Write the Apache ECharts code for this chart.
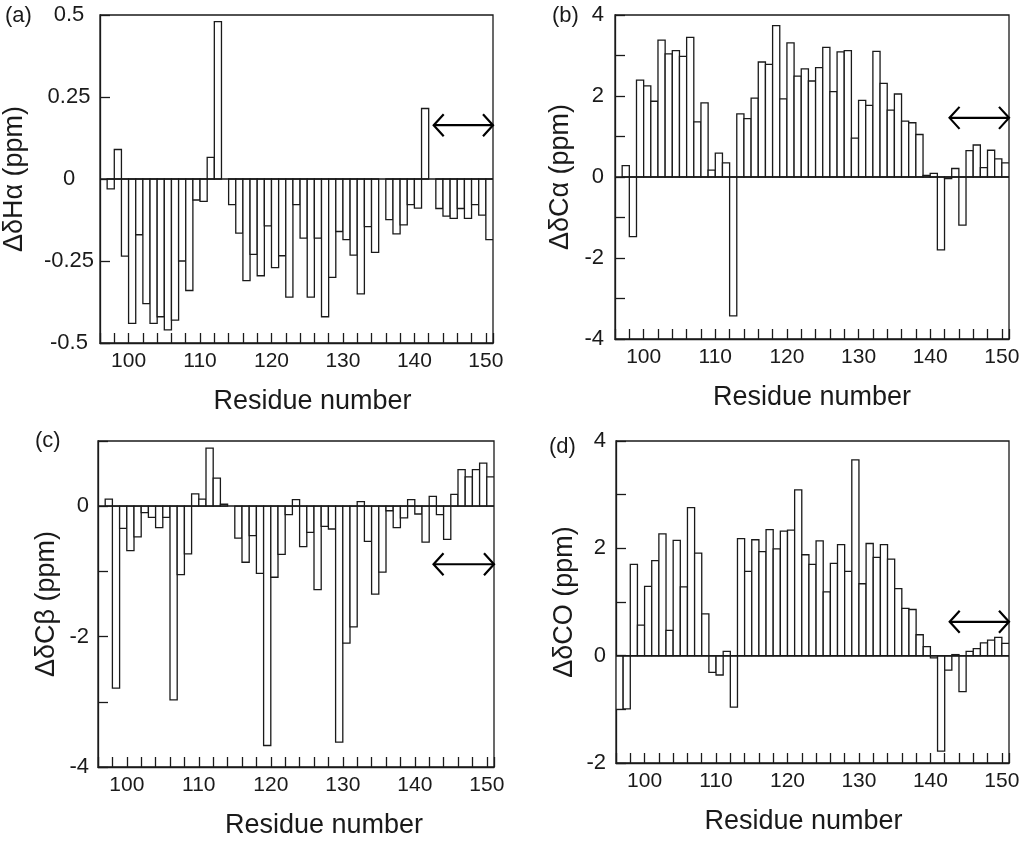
<!DOCTYPE html>
<html>
<head>
<meta charset="utf-8">
<script src="https://cdn.jsdelivr.net/npm/echarts@6/dist/echarts.min.js"></script>
<style>
html,body{margin:0;padding:0;background:#fff;}
#c{width:1024px;height:845px;}
</style>
</head>
<body>
<div id="c"></div>
<script>
// Residue numbers (x categories)
const residues = [96,97,98,99,100,101,102,103,104,105,106,107,108,109,110,111,112,113,114,115,116,117,118,119,120,121,122,123,124,125,126,127,128,129,130,131,132,133,134,135,136,137,138,139,140,141,142,143,144,145,146,147,148,149,150];

// (a) ΔδHα (ppm)
const dHa = [null,-0.03,0.09,-0.235,-0.44,-0.17,-0.38,-0.44,-0.42,-0.46,-0.43,-0.25,-0.34,-0.064,-0.068,0.066,0.48,null,-0.078,-0.165,-0.31,-0.23,-0.295,-0.143,-0.27,-0.234,-0.36,-0.078,-0.18,-0.36,-0.18,-0.42,-0.30,-0.16,-0.185,-0.232,-0.35,-0.145,-0.224,null,-0.124,-0.167,-0.14,-0.078,-0.089,0.215,null,-0.09,-0.113,-0.12,-0.09,-0.12,-0.078,-0.11,-0.185];

// (b) ΔδCα (ppm)
const dCa = [null,0.28,-1.47,2.39,2.25,1.87,3.38,3.04,3.12,2.98,3.45,1.36,1.83,0.17,0.59,0.35,-3.43,1.56,1.44,1.95,2.84,2.78,3.74,1.93,3.31,2.49,2.67,2.37,2.70,3.20,2.11,3.09,3.12,0.96,1.89,1.77,3.10,2.31,1.65,2.05,1.38,1.34,1.05,0.04,0.09,-1.80,-0.04,0.21,-1.19,0.65,0.79,0.23,0.66,0.45,0.35];

// (c) ΔδCβ (ppm)
const dCb = [null,0.11,-2.79,-0.34,-0.68,-0.47,-0.10,-0.17,-0.33,-0.17,-2.97,-1.05,-0.73,0.19,0.11,0.89,0.43,0.03,null,-0.49,-0.86,-0.45,-1.03,-3.67,-1.09,-0.74,-0.13,0.10,-0.62,-0.40,-1.28,-0.31,-0.35,-3.62,-2.10,-1.85,0.07,-0.54,-1.35,-1.01,-0.07,-0.33,-0.18,0.10,-0.12,-0.55,0.15,-0.13,-0.51,0.18,0.56,0.45,0.56,0.66,0.45];

// (d) ΔδCO (ppm)
const dCO = [-1.00,-0.99,1.70,0.57,1.29,1.77,2.27,0.47,2.15,1.28,2.76,1.91,0.78,-0.31,-0.36,0.08,-0.96,2.18,1.57,2.16,1.94,2.35,1.99,2.32,2.34,3.09,1.88,1.70,2.14,1.19,1.72,2.07,1.57,3.65,1.34,2.09,1.83,2.07,1.80,1.25,0.88,0.86,0.39,0.17,-0.04,-1.78,-0.27,0.02,-0.67,0.08,0.13,0.24,0.29,0.34,0.23];

// double-headed arrows: [from residue, to residue, y value]
const arrowA = [142.7, 151, 0.164];
const arrowB = [142.7, 151, 1.46];
const arrowC = [142.6, 151, -0.89];
const arrowD = [142.7, 151, 0.63];

const panelLabels = ['(a)', '(b)', '(c)', '(d)'];
const yNames = ['ΔδHα (ppm)', 'ΔδCα (ppm)', 'ΔδCβ (ppm)', 'ΔδCO (ppm)'];
const xName = 'Residue number';

const FONT = '"Liberation Sans", Arial, Helvetica, sans-serif';
const INK = '#1a1a1a';

const panels = [
  {vals: dHa, arrow: arrowA, grid:{left:100, top:15, width:393, height:328},
   y:{min:-0.5, max:0.5, interval:0.25, every:false, align:'center', margin:31, gap:72}, xpad:[0,0,0,32], lab:{left:5, top:5}},
  {vals: dCa, arrow: arrowB, grid:{left:615, top:15, width:394, height:324},
   y:{min:-4, max:4, interval:1, every:true, align:'right', margin:11, gap:41}, xpad:[0,0,0,0], lab:{left:552, top:5}},
  {vals: dCb, arrow: arrowC, grid:{left:98, top:441, width:396, height:326},
   y:{min:-4, max:1, interval:1, every:true, align:'right', margin:9, gap:38}, xpad:[0,0,0,56], lab:{left:35, top:430}},
  {vals: dCO, arrow: arrowD, grid:{left:616, top:441, width:393, height:322},
   y:{min:-2, max:4, interval:1, every:true, align:'right', margin:10, gap:38}, xpad:[0,18,0,0], lab:{left:549, top:436}}
];

function toData(vals){
  const out = [];
  residues.forEach((r,i)=>{ if (vals[i] !== null && vals[i] !== undefined) out.push([r, vals[i]]); });
  return out;
}

function renderBar(params, api){
  const x = api.value(0), y = api.value(1);
  const p0 = api.coord([x, 0]);
  const p1 = api.coord([x + 1, y]);
  return {
    type: 'rect',
    shape: {x: p0[0], y: Math.min(p0[1], p1[1]), width: p1[0] - p0[0], height: Math.abs(p1[1] - p0[1])},
    style: {fill: '#ffffff', stroke: INK, lineWidth: 1.3}
  };
}

function renderArrow(params, api){
  const a = api.coord([api.value(0), api.value(2)]);
  const b = api.coord([api.value(1), api.value(2)]);
  const hl = 10, hh = 11;
  const st = {stroke: '#000', lineWidth: 2.2, fill: null, lineJoin: 'miter'};
  return {
    type: 'group',
    children: [
      {type:'line', shape:{x1:a[0], y1:a[1], x2:b[0], y2:b[1]}, style: st},
      {type:'polyline', shape:{points:[[a[0]+hl, a[1]-hh],[a[0], a[1]],[a[0]+hl, a[1]+hh]]}, style: st},
      {type:'polyline', shape:{points:[[b[0]-hl, b[1]-hh],[b[0], b[1]],[b[0]-hl, b[1]+hh]]}, style: st}
    ]
  };
}

const option = {
  animation: false,
  backgroundColor: '#ffffff',
  textStyle: {fontFamily: FONT, color: INK},
  title: panels.map((p,i)=>({text: panelLabels[i], left: p.lab.left, top: p.lab.top, padding: 0,
     textStyle:{fontFamily: FONT, fontSize: 22, fontWeight: 'normal', color: INK}})),
  grid: panels.map(p=>Object.assign({show:true, borderColor: INK, borderWidth: 1.3, backgroundColor:'#fff', containLabel:false, outerBoundsMode:'none'}, p.grid)),
  xAxis: panels.map((p,i)=>({
    type: 'value', gridIndex: i, min: 96, max: 151, interval: 2,
    name: xName, nameLocation: 'middle', nameGap: 45,
    nameTextStyle: {fontFamily: FONT, fontSize: 27, color: INK, padding: p.xpad},
    axisLine: {show: true, onZero: false, lineStyle: {color: INK, width: 1.3}},
    axisTick: {show: true, inside: true, length: 10, lineStyle: {color: INK, width: 1.3}},
    axisLabel: {show: true, margin: 8, fontFamily: FONT, fontSize: 21, color: INK,
      formatter: v => (v % 10 === 0 ? String(v) : '')},
    splitLine: {show: false}
  })),
  yAxis: panels.map((p,i)=>({
    type: 'value', gridIndex: i, min: p.y.min, max: p.y.max, interval: p.y.interval,
    name: yNames[i], nameLocation: 'middle', nameGap: p.y.gap, nameRotate: 90,
    nameTextStyle: {fontFamily: FONT, fontSize: 27, color: INK},
    axisLine: {show: true, onZero: false, lineStyle: {color: INK, width: 1.3}},
    axisTick: {show: true, inside: true, length: 10, lineStyle: {color: INK, width: 1.3}},
    axisLabel: {show: true, margin: p.y.margin, align: p.y.align, fontFamily: FONT, fontSize: 22, color: INK,
      formatter: v => (p.y.every ? (Math.round(v) % 2 === 0 ? String(v) : '') : String(v))},
    splitLine: {show: false}
  })),
  series: []
};

panels.forEach((p,i)=>{
  option.series.push({
    type: 'custom', xAxisIndex: i, yAxisIndex: i,
    renderItem: renderBar, encode: {x: 0, y: 1},
    data: toData(p.vals), clip: true, silent: true,
    markLine: {silent: true, symbol: 'none', label: {show: false},
      lineStyle: {color: INK, width: 1.5, type: 'solid'}, data: [{yAxis: 0}]}
  });
  option.series.push({
    type: 'custom', xAxisIndex: i, yAxisIndex: i,
    renderItem: renderArrow, encode: {x: [0, 1], y: 2},
    data: [p.arrow], silent: true, z: 5
  });
});

const chart = echarts.init(document.getElementById('c'), null, {renderer: 'canvas'});
chart.setOption(option);
</script>
</body>
</html>
